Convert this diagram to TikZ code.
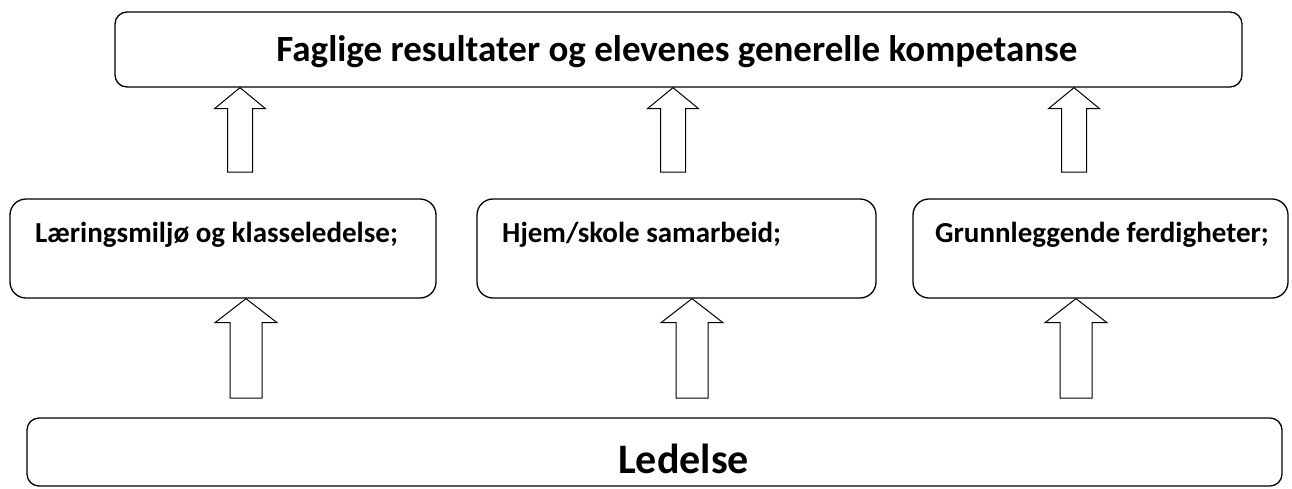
\documentclass[tikz,border=0pt]{standalone}
\usepackage{fontspec}
\setmainfont{Carlito}
\usepackage{tikz}
\usetikzlibrary{calc,positioning}

% block arrow: #1 foot coordinate, #2 tip, #3 half shaft, #4 half head, #5 head length
\newcommand{\blkarrow}[5]{%
  \draw[blk] let \p1=(#1), \p2=(#2) in
    (\x1-#3,\y1) -- (\x1-#3,\y2-#5) -- (\x1-#4,\y2-#5) -- (\x2,\y2)
    -- (\x1+#4,\y2-#5) -- (\x1+#3,\y2-#5) -- (\x1+#3,\y1) -- cycle;}

\begin{document}
\begin{tikzpicture}[x=1pt,y=-1pt,
    box/.style={draw,rounded corners=12pt,line width=1.3pt,inner sep=0pt},
    midbox/.style={box,rounded corners=16pt,minimum height=99pt},
    txt/.style={inner sep=0pt,font=\bfseries\fontsize{29}{34}\selectfont},
    blk/.style={draw,line width=1pt,fill=white}]
      \useasboundingbox (0,0) rectangle (1292,488);

      % boxes
      \node[box,minimum width=1127pt,minimum height=75pt] (top) at (678.5,49.5) {};
      \node[midbox,minimum width=426pt] (l1) at (223,248.5) {};
      \node[midbox,minimum width=399pt] (l2) at (676.5,248.5) {};
      \node[midbox,minimum width=375pt] (l3) at (1100.5,248.5) {};
      \node[box,minimum width=1255pt,minimum height=68pt] (bot) at (654.5,452) {};

      % texts
      \node[txt,anchor=base,font=\bfseries\fontsize{37}{42}\selectfont] (ttop) at (677,61) {Faglige resultater og elevenes generelle kompetanse};
      \node[txt,anchor=base west] (t1) at (35,242) {Læringsmiljø og klasseledelse;};
      \node[txt,anchor=base west] (t2) at (502,242) {Hjem/skole samarbeid;};
      \node[txt,anchor=base west] (t3) at (935,242) {Grunnleggende ferdigheter;};
      \node[txt,anchor=base,font=\bfseries\fontsize{42}{48}\selectfont] (tbot) at (683.5,473) {Ledelse};

      % arrow feet
      \coordinate (a1) at (240,172);
      \coordinate (a2) at (673,172);
      \coordinate (a3) at (1074,172);
      \coordinate (b1) at (246,398);
      \coordinate (b2) at (692,398);
      \coordinate (b3) at (1076,398);

      \blkarrow{a1}{top.south -| a1}{12.5pt}{25.5pt}{21pt}
      \blkarrow{a2}{top.south -| a2}{12.5pt}{25.5pt}{21pt}
      \blkarrow{a3}{top.south -| a3}{12.5pt}{25.5pt}{21pt}
      \blkarrow{b1}{l1.south -| b1}{16pt}{31pt}{24pt}
      \blkarrow{b2}{l2.south -| b2}{16pt}{31pt}{24pt}
      \blkarrow{b3}{l3.south -| b3}{16pt}{31pt}{24pt}
\end{tikzpicture}
\end{document}
